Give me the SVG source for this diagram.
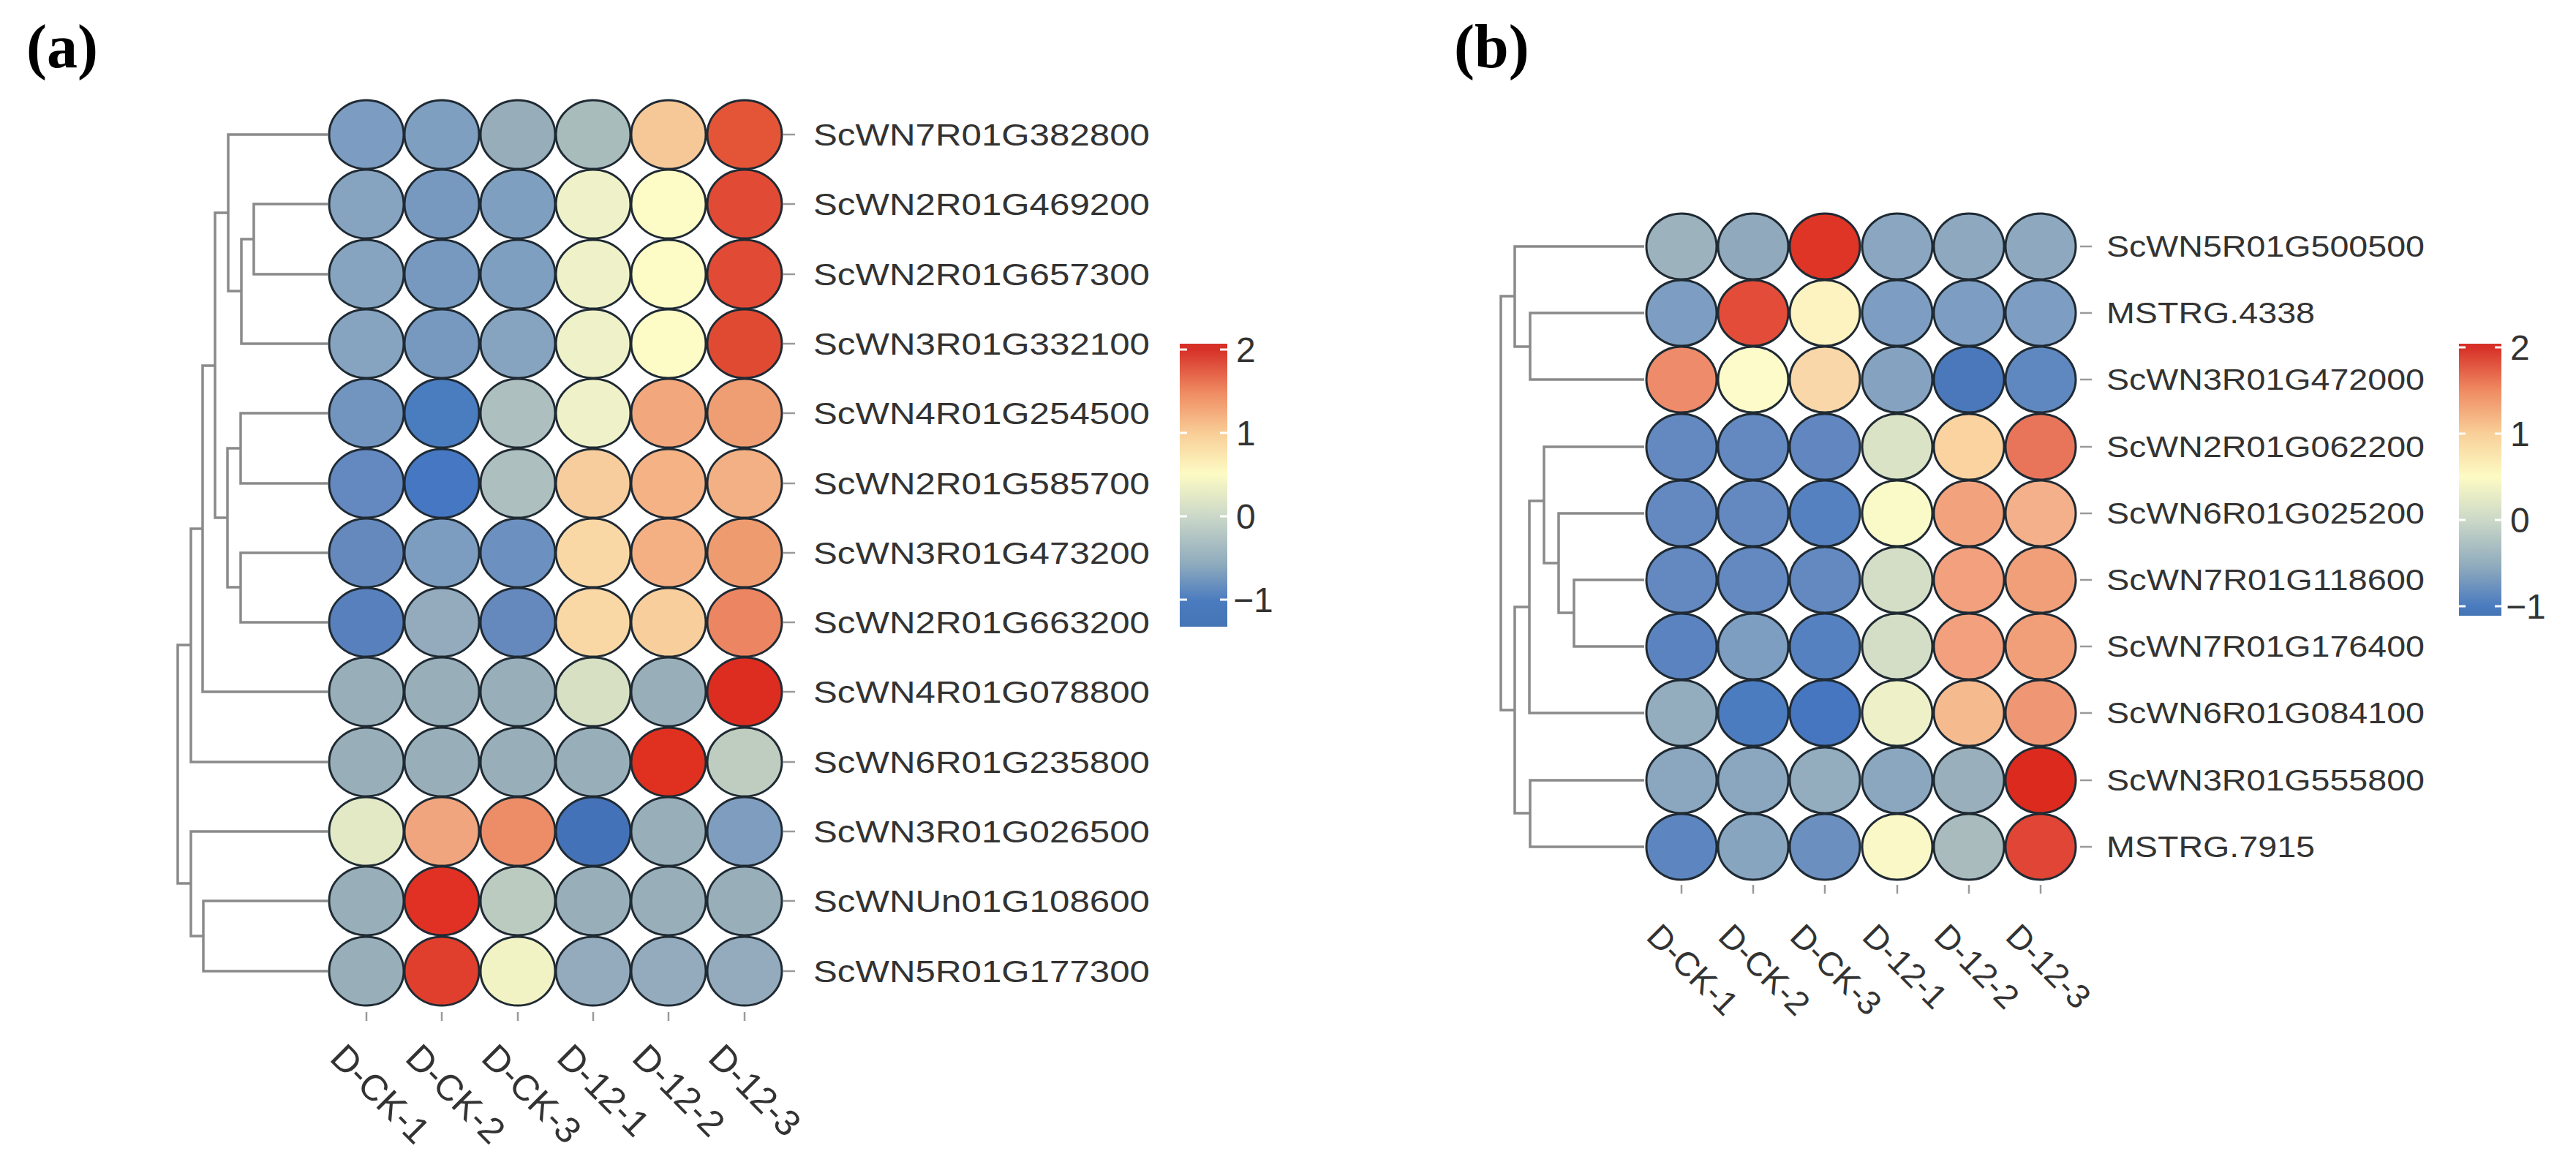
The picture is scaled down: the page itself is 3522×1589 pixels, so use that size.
<svg xmlns="http://www.w3.org/2000/svg" width="3522" height="1589" viewBox="0 0 3522 1589">
<style>
.c{stroke:#1f2a33;stroke-width:3}
.d{fill:none;stroke:#8a8a8a;stroke-width:3.5}
.tk{stroke:#9a9a9a;stroke-width:2.5}
.la{font-family:"Liberation Sans",Arial,sans-serif;font-size:43px;fill:#333}
.lb{font-family:"Liberation Sans",Arial,sans-serif;font-size:40px;fill:#333}
.xa{font-family:"Liberation Sans",Arial,sans-serif;font-size:50px;fill:#333}
.xb{font-family:"Liberation Sans",Arial,sans-serif;font-size:46px;fill:#333}
.cb{font-family:"Liberation Sans",Arial,sans-serif;font-size:48px;fill:#333}
.pl{font-family:"Liberation Serif","Times New Roman",serif;font-size:84px;font-weight:bold;fill:#000}
.wt{stroke:#fff;stroke-width:3}
</style>
<defs>
<linearGradient id="ga" x1="0" y1="0" x2="0" y2="1">
<stop offset="0" stop-color="#d73027"/><stop offset="0.02" stop-color="#d73027"/>
<stop offset="0.17" stop-color="#ef8a62"/><stop offset="0.32" stop-color="#f9cf98"/>
<stop offset="0.46" stop-color="#fdfbc4"/><stop offset="0.61" stop-color="#cbd8c8"/>
<stop offset="0.78" stop-color="#8eaabd"/><stop offset="0.91" stop-color="#4a7bbf"/><stop offset="1" stop-color="#4575b4"/>
</linearGradient>
<linearGradient id="gb" x1="0" y1="0" x2="0" y2="1">
<stop offset="0" stop-color="#d73027"/><stop offset="0.013" stop-color="#d73027"/>
<stop offset="0.17" stop-color="#ef8a62"/><stop offset="0.33" stop-color="#f9cf98"/>
<stop offset="0.49" stop-color="#fdfbc4"/><stop offset="0.65" stop-color="#cbd8c8"/>
<stop offset="0.82" stop-color="#8eaabd"/><stop offset="0.965" stop-color="#4a7bbf"/><stop offset="1" stop-color="#4575b4"/>
</linearGradient>
</defs>
<rect width="3522" height="1589" fill="#fff"/>
<text class="pl" x="36" y="92">(a)</text>
<text class="pl" x="1988" y="92">(b)</text>

<g id="connectors">
<path class="d" d="M448,279H347V375H448"/>
<path class="d" d="M347,327H330V470H448"/>
<path class="d" d="M448,184H312V398H330"/>
<path class="d" d="M448,565H329V661H448"/>
<path class="d" d="M448,756H329V851H448"/>
<path class="d" d="M329,613H311V803H329"/>
<path class="d" d="M312,291H294V708H311"/>
<path class="d" d="M294,500H277V946H448"/>
<path class="d" d="M277,723H261V1042H448"/>
<path class="d" d="M448,1232H278V1328H448"/>
<path class="d" d="M448,1137H261V1280H278"/>
<path class="d" d="M261,882H243V1208H261"/>
<path class="d" d="M2248,428H2092V519H2248"/>
<path class="d" d="M2248,337H2071V474H2092"/>
<path class="d" d="M2248,793H2152V884H2248"/>
<path class="d" d="M2248,702H2131V838H2152"/>
<path class="d" d="M2248,611H2111V770H2131"/>
<path class="d" d="M2111,685H2091V975H2248"/>
<path class="d" d="M2248,1067H2092V1158H2248"/>
<path class="d" d="M2091,830H2071V1112H2092"/>
<path class="d" d="M2071,405H2052V971H2071"/>
</g>

<g id="heatmap-a">
<g class="tk">
<line x1="1071" y1="184" x2="1087" y2="184"/><line x1="1071" y1="279" x2="1087" y2="279"/><line x1="1071" y1="375" x2="1087" y2="375"/><line x1="1071" y1="470" x2="1087" y2="470"/><line x1="1071" y1="565" x2="1087" y2="565"/><line x1="1071" y1="661" x2="1087" y2="661"/><line x1="1071" y1="756" x2="1087" y2="756"/><line x1="1071" y1="851" x2="1087" y2="851"/><line x1="1071" y1="946" x2="1087" y2="946"/><line x1="1071" y1="1042" x2="1087" y2="1042"/><line x1="1071" y1="1137" x2="1087" y2="1137"/><line x1="1071" y1="1232" x2="1087" y2="1232"/><line x1="1071" y1="1328" x2="1087" y2="1328"/>
<line x1="501" y1="1384" x2="501" y2="1396"/><line x1="604" y1="1384" x2="604" y2="1396"/><line x1="708" y1="1384" x2="708" y2="1396"/><line x1="811" y1="1384" x2="811" y2="1396"/><line x1="914" y1="1384" x2="914" y2="1396"/><line x1="1018" y1="1384" x2="1018" y2="1396"/>
</g>
<g id="a-r1"><ellipse class="c" cx="501" cy="184" rx="51" ry="47" fill="#7c9dc1"/><ellipse class="c" cx="604" cy="184" rx="51" ry="47" fill="#7f9fc0"/><ellipse class="c" cx="708" cy="184" rx="51" ry="47" fill="#97aeba"/><ellipse class="c" cx="811" cy="184" rx="51" ry="47" fill="#a9bcbc"/><ellipse class="c" cx="914" cy="184" rx="51" ry="47" fill="#f7c897"/><ellipse class="c" cx="1018" cy="184" rx="51" ry="47" fill="#e45538"/></g>
<g id="a-r2"><ellipse class="c" cx="501" cy="279" rx="51" ry="47" fill="#86a4c0"/><ellipse class="c" cx="604" cy="279" rx="51" ry="47" fill="#7799c0"/><ellipse class="c" cx="708" cy="279" rx="51" ry="47" fill="#7f9fc0"/><ellipse class="c" cx="811" cy="279" rx="51" ry="47" fill="#eff2c9"/><ellipse class="c" cx="914" cy="279" rx="51" ry="47" fill="#fdfbc6"/><ellipse class="c" cx="1018" cy="279" rx="51" ry="47" fill="#e14a34"/></g>
<g id="a-r3"><ellipse class="c" cx="501" cy="375" rx="51" ry="47" fill="#86a4c0"/><ellipse class="c" cx="604" cy="375" rx="51" ry="47" fill="#7799c0"/><ellipse class="c" cx="708" cy="375" rx="51" ry="47" fill="#7f9fc0"/><ellipse class="c" cx="811" cy="375" rx="51" ry="47" fill="#eff2c9"/><ellipse class="c" cx="914" cy="375" rx="51" ry="47" fill="#fdfbc6"/><ellipse class="c" cx="1018" cy="375" rx="51" ry="47" fill="#e14a34"/></g>
<g id="a-r4"><ellipse class="c" cx="501" cy="470" rx="51" ry="47" fill="#86a4c0"/><ellipse class="c" cx="604" cy="470" rx="51" ry="47" fill="#7799c0"/><ellipse class="c" cx="708" cy="470" rx="51" ry="47" fill="#86a4c0"/><ellipse class="c" cx="811" cy="470" rx="51" ry="47" fill="#eff2c9"/><ellipse class="c" cx="914" cy="470" rx="51" ry="47" fill="#fdfbc6"/><ellipse class="c" cx="1018" cy="470" rx="51" ry="47" fill="#e04a33"/></g>
<g id="a-r5"><ellipse class="c" cx="501" cy="565" rx="51" ry="47" fill="#7295c0"/><ellipse class="c" cx="604" cy="565" rx="51" ry="47" fill="#4a7cc0"/><ellipse class="c" cx="708" cy="565" rx="51" ry="47" fill="#aebfbf"/><ellipse class="c" cx="811" cy="565" rx="51" ry="47" fill="#eff2c9"/><ellipse class="c" cx="914" cy="565" rx="51" ry="47" fill="#f2a77c"/><ellipse class="c" cx="1018" cy="565" rx="51" ry="47" fill="#ef9d72"/></g>
<g id="a-r6"><ellipse class="c" cx="501" cy="661" rx="51" ry="47" fill="#6488c0"/><ellipse class="c" cx="604" cy="661" rx="51" ry="47" fill="#4677c3"/><ellipse class="c" cx="708" cy="661" rx="51" ry="47" fill="#aebfbf"/><ellipse class="c" cx="811" cy="661" rx="51" ry="47" fill="#f8cd9d"/><ellipse class="c" cx="914" cy="661" rx="51" ry="47" fill="#f4b285"/><ellipse class="c" cx="1018" cy="661" rx="51" ry="47" fill="#f3b085"/></g>
<g id="a-r7"><ellipse class="c" cx="501" cy="756" rx="51" ry="47" fill="#6589bd"/><ellipse class="c" cx="604" cy="756" rx="51" ry="47" fill="#7d9dc0"/><ellipse class="c" cx="708" cy="756" rx="51" ry="47" fill="#6c90bf"/><ellipse class="c" cx="811" cy="756" rx="51" ry="47" fill="#fad8a5"/><ellipse class="c" cx="914" cy="756" rx="51" ry="47" fill="#f4b083"/><ellipse class="c" cx="1018" cy="756" rx="51" ry="47" fill="#ef9b70"/></g>
<g id="a-r8"><ellipse class="c" cx="501" cy="851" rx="51" ry="47" fill="#5780bd"/><ellipse class="c" cx="604" cy="851" rx="51" ry="47" fill="#93abbc"/><ellipse class="c" cx="708" cy="851" rx="51" ry="47" fill="#6589bd"/><ellipse class="c" cx="811" cy="851" rx="51" ry="47" fill="#fad8a5"/><ellipse class="c" cx="914" cy="851" rx="51" ry="47" fill="#f8cf9c"/><ellipse class="c" cx="1018" cy="851" rx="51" ry="47" fill="#ec8562"/></g>
<g id="a-r9"><ellipse class="c" cx="501" cy="946" rx="51" ry="47" fill="#98afba"/><ellipse class="c" cx="604" cy="946" rx="51" ry="47" fill="#98afba"/><ellipse class="c" cx="708" cy="946" rx="51" ry="47" fill="#98afba"/><ellipse class="c" cx="811" cy="946" rx="51" ry="47" fill="#d7e0c2"/><ellipse class="c" cx="914" cy="946" rx="51" ry="47" fill="#98afba"/><ellipse class="c" cx="1018" cy="946" rx="51" ry="47" fill="#dd2d20"/></g>
<g id="a-r10"><ellipse class="c" cx="501" cy="1042" rx="51" ry="47" fill="#98afba"/><ellipse class="c" cx="604" cy="1042" rx="51" ry="47" fill="#98afba"/><ellipse class="c" cx="708" cy="1042" rx="51" ry="47" fill="#98afba"/><ellipse class="c" cx="811" cy="1042" rx="51" ry="47" fill="#98afba"/><ellipse class="c" cx="914" cy="1042" rx="51" ry="47" fill="#e0301f"/><ellipse class="c" cx="1018" cy="1042" rx="51" ry="47" fill="#bfcdc0"/></g>
<g id="a-r11"><ellipse class="c" cx="501" cy="1137" rx="51" ry="47" fill="#e3e9c5"/><ellipse class="c" cx="604" cy="1137" rx="51" ry="47" fill="#f1a57e"/><ellipse class="c" cx="708" cy="1137" rx="51" ry="47" fill="#ec8d68"/><ellipse class="c" cx="811" cy="1137" rx="51" ry="47" fill="#4472b8"/><ellipse class="c" cx="914" cy="1137" rx="51" ry="47" fill="#98afba"/><ellipse class="c" cx="1018" cy="1137" rx="51" ry="47" fill="#7f9ebf"/></g>
<g id="a-r12"><ellipse class="c" cx="501" cy="1232" rx="51" ry="47" fill="#98afba"/><ellipse class="c" cx="604" cy="1232" rx="51" ry="47" fill="#e03124"/><ellipse class="c" cx="708" cy="1232" rx="51" ry="47" fill="#bccbc0"/><ellipse class="c" cx="811" cy="1232" rx="51" ry="47" fill="#98afba"/><ellipse class="c" cx="914" cy="1232" rx="51" ry="47" fill="#98afba"/><ellipse class="c" cx="1018" cy="1232" rx="51" ry="47" fill="#98afba"/></g>
<g id="a-r13"><ellipse class="c" cx="501" cy="1328" rx="51" ry="47" fill="#98afba"/><ellipse class="c" cx="604" cy="1328" rx="51" ry="47" fill="#e03f2e"/><ellipse class="c" cx="708" cy="1328" rx="51" ry="47" fill="#f1f3c5"/><ellipse class="c" cx="811" cy="1328" rx="51" ry="47" fill="#93abbc"/><ellipse class="c" cx="914" cy="1328" rx="51" ry="47" fill="#93abbc"/><ellipse class="c" cx="1018" cy="1328" rx="51" ry="47" fill="#93abbc"/></g>
<g class="la">
<text x="1112" y="199" textLength="460" lengthAdjust="spacingAndGlyphs">ScWN7R01G382800</text>
<text x="1112" y="294" textLength="460" lengthAdjust="spacingAndGlyphs">ScWN2R01G469200</text>
<text x="1112" y="390" textLength="460" lengthAdjust="spacingAndGlyphs">ScWN2R01G657300</text>
<text x="1112" y="485" textLength="460" lengthAdjust="spacingAndGlyphs">ScWN3R01G332100</text>
<text x="1112" y="580" textLength="460" lengthAdjust="spacingAndGlyphs">ScWN4R01G254500</text>
<text x="1112" y="676" textLength="460" lengthAdjust="spacingAndGlyphs">ScWN2R01G585700</text>
<text x="1112" y="771" textLength="460" lengthAdjust="spacingAndGlyphs">ScWN3R01G473200</text>
<text x="1112" y="866" textLength="460" lengthAdjust="spacingAndGlyphs">ScWN2R01G663200</text>
<text x="1112" y="961" textLength="460" lengthAdjust="spacingAndGlyphs">ScWN4R01G078800</text>
<text x="1112" y="1057" textLength="460" lengthAdjust="spacingAndGlyphs">ScWN6R01G235800</text>
<text x="1112" y="1152" textLength="460" lengthAdjust="spacingAndGlyphs">ScWN3R01G026500</text>
<text x="1112" y="1247" textLength="460" lengthAdjust="spacingAndGlyphs">ScWNUn01G108600</text>
<text x="1112" y="1343" textLength="460" lengthAdjust="spacingAndGlyphs">ScWN5R01G177300</text>
</g>
<g class="xa">
<text transform="translate(449,1449) rotate(45)">D-CK-1</text>
<text transform="translate(552,1449) rotate(45)">D-CK-2</text>
<text transform="translate(656,1449) rotate(45)">D-CK-3</text>
<text transform="translate(759,1449) rotate(45)">D-12-1</text>
<text transform="translate(862,1449) rotate(45)">D-12-2</text>
<text transform="translate(966,1449) rotate(45)">D-12-3</text>
</g>
</g>

<g id="legend-a">
<rect x="1613" y="470" width="65" height="387" fill="url(#ga)"/>
<g class="wt"><line x1="1613" y1="478" x2="1623" y2="478"/><line x1="1668" y1="478" x2="1678" y2="478"/><line x1="1613" y1="592" x2="1623" y2="592"/><line x1="1668" y1="592" x2="1678" y2="592"/><line x1="1613" y1="706" x2="1623" y2="706"/><line x1="1668" y1="706" x2="1678" y2="706"/><line x1="1613" y1="820" x2="1623" y2="820"/><line x1="1668" y1="820" x2="1678" y2="820"/></g>
<g class="cb"><text x="1690" y="495">2</text><text x="1690" y="609">1</text><text x="1690" y="723">0</text><text x="1686" y="837">−1</text></g>
</g>

<g id="heatmap-b">
<g class="tk">
<line x1="2844" y1="337" x2="2860" y2="337"/><line x1="2844" y1="428" x2="2860" y2="428"/><line x1="2844" y1="519" x2="2860" y2="519"/><line x1="2844" y1="611" x2="2860" y2="611"/><line x1="2844" y1="702" x2="2860" y2="702"/><line x1="2844" y1="793" x2="2860" y2="793"/><line x1="2844" y1="884" x2="2860" y2="884"/><line x1="2844" y1="975" x2="2860" y2="975"/><line x1="2844" y1="1067" x2="2860" y2="1067"/><line x1="2844" y1="1158" x2="2860" y2="1158"/>
<line x1="2299" y1="1210" x2="2299" y2="1222"/><line x1="2397" y1="1210" x2="2397" y2="1222"/><line x1="2495" y1="1210" x2="2495" y2="1222"/><line x1="2594" y1="1210" x2="2594" y2="1222"/><line x1="2692" y1="1210" x2="2692" y2="1222"/><line x1="2790" y1="1210" x2="2790" y2="1222"/>
</g>
<g id="b-r1"><ellipse class="c" cx="2299" cy="337" rx="48" ry="45" fill="#9cb2bd"/><ellipse class="c" cx="2397" cy="337" rx="48" ry="45" fill="#90a9bc"/><ellipse class="c" cx="2495" cy="337" rx="48" ry="45" fill="#df3526"/><ellipse class="c" cx="2594" cy="337" rx="48" ry="45" fill="#8aa6c0"/><ellipse class="c" cx="2692" cy="337" rx="48" ry="45" fill="#8da8bf"/><ellipse class="c" cx="2790" cy="337" rx="48" ry="45" fill="#8da8bf"/></g>
<g id="b-r2"><ellipse class="c" cx="2299" cy="428" rx="48" ry="45" fill="#7d9ec2"/><ellipse class="c" cx="2397" cy="428" rx="48" ry="45" fill="#e44c3a"/><ellipse class="c" cx="2495" cy="428" rx="48" ry="45" fill="#fdf3c0"/><ellipse class="c" cx="2594" cy="428" rx="48" ry="45" fill="#7d9ec2"/><ellipse class="c" cx="2692" cy="428" rx="48" ry="45" fill="#7d9ec2"/><ellipse class="c" cx="2790" cy="428" rx="48" ry="45" fill="#7d9ec2"/></g>
<g id="b-r3"><ellipse class="c" cx="2299" cy="519" rx="48" ry="45" fill="#ee8b6a"/><ellipse class="c" cx="2397" cy="519" rx="48" ry="45" fill="#fdfbca"/><ellipse class="c" cx="2495" cy="519" rx="48" ry="45" fill="#fad7a8"/><ellipse class="c" cx="2594" cy="519" rx="48" ry="45" fill="#85a2c0"/><ellipse class="c" cx="2692" cy="519" rx="48" ry="45" fill="#4a78bb"/><ellipse class="c" cx="2790" cy="519" rx="48" ry="45" fill="#5f88c0"/></g>
<g id="b-r4"><ellipse class="c" cx="2299" cy="611" rx="48" ry="45" fill="#6389c0"/><ellipse class="c" cx="2397" cy="611" rx="48" ry="45" fill="#6389c0"/><ellipse class="c" cx="2495" cy="611" rx="48" ry="45" fill="#6186c0"/><ellipse class="c" cx="2594" cy="611" rx="48" ry="45" fill="#dbe3c6"/><ellipse class="c" cx="2692" cy="611" rx="48" ry="45" fill="#fad3a0"/><ellipse class="c" cx="2790" cy="611" rx="48" ry="45" fill="#e8755a"/></g>
<g id="b-r5"><ellipse class="c" cx="2299" cy="702" rx="48" ry="45" fill="#6389c0"/><ellipse class="c" cx="2397" cy="702" rx="48" ry="45" fill="#6389c0"/><ellipse class="c" cx="2495" cy="702" rx="48" ry="45" fill="#5581c0"/><ellipse class="c" cx="2594" cy="702" rx="48" ry="45" fill="#fafac8"/><ellipse class="c" cx="2692" cy="702" rx="48" ry="45" fill="#f2a37e"/><ellipse class="c" cx="2790" cy="702" rx="48" ry="45" fill="#f4b08a"/></g>
<g id="b-r6"><ellipse class="c" cx="2299" cy="793" rx="48" ry="45" fill="#6389c0"/><ellipse class="c" cx="2397" cy="793" rx="48" ry="45" fill="#6389c0"/><ellipse class="c" cx="2495" cy="793" rx="48" ry="45" fill="#6389c0"/><ellipse class="c" cx="2594" cy="793" rx="48" ry="45" fill="#d4dec6"/><ellipse class="c" cx="2692" cy="793" rx="48" ry="45" fill="#f2a07d"/><ellipse class="c" cx="2790" cy="793" rx="48" ry="45" fill="#f19f79"/></g>
<g id="b-r7"><ellipse class="c" cx="2299" cy="884" rx="48" ry="45" fill="#5a83c0"/><ellipse class="c" cx="2397" cy="884" rx="48" ry="45" fill="#7d9ec0"/><ellipse class="c" cx="2495" cy="884" rx="48" ry="45" fill="#5581c0"/><ellipse class="c" cx="2594" cy="884" rx="48" ry="45" fill="#d4dec6"/><ellipse class="c" cx="2692" cy="884" rx="48" ry="45" fill="#f2a07d"/><ellipse class="c" cx="2790" cy="884" rx="48" ry="45" fill="#f19f79"/></g>
<g id="b-r8"><ellipse class="c" cx="2299" cy="975" rx="48" ry="45" fill="#93adbf"/><ellipse class="c" cx="2397" cy="975" rx="48" ry="45" fill="#4c7cc0"/><ellipse class="c" cx="2495" cy="975" rx="48" ry="45" fill="#4676c0"/><ellipse class="c" cx="2594" cy="975" rx="48" ry="45" fill="#eef0c8"/><ellipse class="c" cx="2692" cy="975" rx="48" ry="45" fill="#f5bb8f"/><ellipse class="c" cx="2790" cy="975" rx="48" ry="45" fill="#ef9774"/></g>
<g id="b-r9"><ellipse class="c" cx="2299" cy="1067" rx="48" ry="45" fill="#8ba7bf"/><ellipse class="c" cx="2397" cy="1067" rx="48" ry="45" fill="#8ba7bf"/><ellipse class="c" cx="2495" cy="1067" rx="48" ry="45" fill="#93adbf"/><ellipse class="c" cx="2594" cy="1067" rx="48" ry="45" fill="#8ba7bf"/><ellipse class="c" cx="2692" cy="1067" rx="48" ry="45" fill="#99b0bc"/><ellipse class="c" cx="2790" cy="1067" rx="48" ry="45" fill="#dc2a1e"/></g>
<g id="b-r10"><ellipse class="c" cx="2299" cy="1158" rx="48" ry="45" fill="#5d86c0"/><ellipse class="c" cx="2397" cy="1158" rx="48" ry="45" fill="#88a5c0"/><ellipse class="c" cx="2495" cy="1158" rx="48" ry="45" fill="#6b90c0"/><ellipse class="c" cx="2594" cy="1158" rx="48" ry="45" fill="#fbf8c8"/><ellipse class="c" cx="2692" cy="1158" rx="48" ry="45" fill="#a9bbbc"/><ellipse class="c" cx="2790" cy="1158" rx="48" ry="45" fill="#e04535"/></g>
<g class="lb">
<text x="2880" y="351" textLength="435" lengthAdjust="spacingAndGlyphs">ScWN5R01G500500</text>
<text x="2880" y="442" textLength="285" lengthAdjust="spacingAndGlyphs">MSTRG.4338</text>
<text x="2880" y="533" textLength="435" lengthAdjust="spacingAndGlyphs">ScWN3R01G472000</text>
<text x="2880" y="625" textLength="435" lengthAdjust="spacingAndGlyphs">ScWN2R01G062200</text>
<text x="2880" y="716" textLength="435" lengthAdjust="spacingAndGlyphs">ScWN6R01G025200</text>
<text x="2880" y="807" textLength="435" lengthAdjust="spacingAndGlyphs">ScWN7R01G118600</text>
<text x="2880" y="898" textLength="435" lengthAdjust="spacingAndGlyphs">ScWN7R01G176400</text>
<text x="2880" y="989" textLength="435" lengthAdjust="spacingAndGlyphs">ScWN6R01G084100</text>
<text x="2880" y="1081" textLength="435" lengthAdjust="spacingAndGlyphs">ScWN3R01G555800</text>
<text x="2880" y="1172" textLength="285" lengthAdjust="spacingAndGlyphs">MSTRG.7915</text>
</g>
<g class="xb">
<text transform="translate(2249,1283) rotate(45)">D-CK-1</text>
<text transform="translate(2347,1283) rotate(45)">D-CK-2</text>
<text transform="translate(2445,1283) rotate(45)">D-CK-3</text>
<text transform="translate(2544,1283) rotate(45)">D-12-1</text>
<text transform="translate(2642,1283) rotate(45)">D-12-2</text>
<text transform="translate(2740,1283) rotate(45)">D-12-3</text>
</g>
</g>

<g id="legend-b">
<rect x="3362" y="470" width="58" height="372" fill="url(#gb)"/>
<g class="wt"><line x1="3362" y1="475" x2="3371" y2="475"/><line x1="3411" y1="475" x2="3420" y2="475"/><line x1="3362" y1="593" x2="3371" y2="593"/><line x1="3411" y1="593" x2="3420" y2="593"/><line x1="3362" y1="711" x2="3371" y2="711"/><line x1="3411" y1="711" x2="3420" y2="711"/><line x1="3362" y1="829" x2="3371" y2="829"/><line x1="3411" y1="829" x2="3420" y2="829"/></g>
<g class="cb"><text x="3432" y="492">2</text><text x="3432" y="610">1</text><text x="3432" y="728">0</text><text x="3426" y="846">−1</text></g>
</g>
</svg>
